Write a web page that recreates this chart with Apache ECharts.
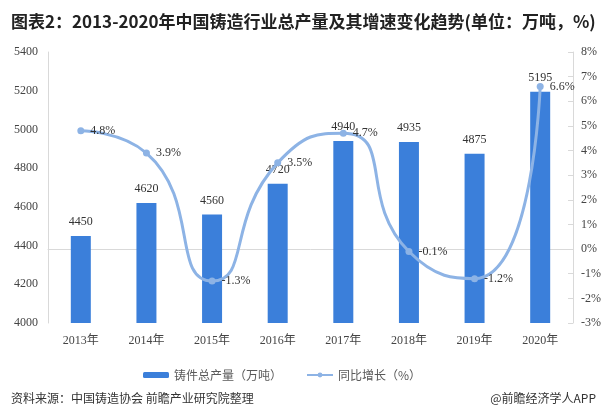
<!DOCTYPE html>
<html><head><meta charset="utf-8">
<script src="https://cdn.jsdelivr.net/npm/echarts@6/dist/echarts.min.js"></script>
<style>html,body{margin:0;padding:0;background:#fff}#c{width:609px;height:417px}</style>
</head><body><div id="c"></div>
<script>
const categories = ['2013年','2014年','2015年','2016年','2017年','2018年','2019年','2020年'];
const output = [4450, 4620, 4560, 4720, 4940, 4935, 4875, 5195];
const growth = [4.8, 3.9, -1.3, 3.5, 4.7, -0.1, -1.2, 6.6];
const serif = "'Liberation Serif','Times New Roman','Noto Sans CJK SC',serif";
const chart = echarts.init(document.getElementById('c'));
chart.setOption({
  animation: false,
  backgroundColor: '#fff',
  title: [
    {text: '图表2：2013-2020年中国铸造行业总产量及其增速变化趋势(单位：万吨，%)', left: 6, top: 8,
     textStyle: {fontSize: 17, fontWeight: 'bold', color: '#222', fontFamily: "'Noto Sans CJK SC',sans-serif"}},
    {text: '资料来源：中国铸造协会 前瞻产业研究院整理', left: 6, top: 387,
     textStyle: {fontSize: 12, fontWeight: 'normal', color: '#333', fontFamily: "'Noto Sans CJK SC',sans-serif"}},
    {text: '@前瞻经济学人APP', right: 8, top: 387,
     textStyle: {fontSize: 12, fontWeight: 'normal', color: '#333', fontFamily: "'Noto Sans CJK SC',sans-serif"}}
  ],
  legend: {
    top: 364, left: 138, itemGap: 24, itemWidth: 26, itemHeight: 6,
    textStyle: {fontSize: 12, color: '#595959', fontFamily: "'Noto Sans CJK SC',sans-serif"},
    data: ['铸件总产量（万吨）', '同比增长（%）']
  },
  grid: {left: 48, right: 36, top: 52, bottom: 94},
  xAxis: {
    type: 'category', data: categories,
    axisLine: {lineStyle: {color: '#d9d9d9'}},
    axisTick: {show: false},
    axisLabel: {color: '#444', fontSize: 12, fontFamily: serif, margin: 12}
  },
  yAxis: [
    {type: 'value', min: 4000, max: 5400, interval: 200,
     axisLine: {show: true, lineStyle: {color: '#d9d9d9'}},
     axisTick: {show: false}, splitLine: {show: false},
     axisLabel: {color: '#444', fontSize: 12, fontFamily: serif, margin: 10, formatter: v => String(v)}},
    {type: 'value', min: -3, max: 8, interval: 1,
     axisLine: {show: true, lineStyle: {color: '#d9d9d9'}},
     axisTick: {show: true, inside: true, length: 5, lineStyle: {color: '#d9d9d9'}},
     splitLine: {show: false},
     axisLabel: {color: '#444', fontSize: 12, fontFamily: serif, margin: 8, formatter: '{value}%'}}
  ],
  series: [
    {name: '铸件总产量（万吨）', type: 'bar', data: output, barWidth: 20, yAxisIndex: 0,
     itemStyle: {color: '#3b7fda'},
     label: {show: true, position: 'top', distance: 8, color: '#333', fontSize: 12, fontFamily: serif}},
    {name: '同比增长（%）', type: 'line', data: growth, yAxisIndex: 1, smooth: 0.6,
     symbol: 'circle', symbolSize: 7,
     lineStyle: {color: '#8db3e5', width: 3},
     itemStyle: {color: '#8db3e5'},
     label: {show: true, position: 'right', distance: 6, color: '#333', fontSize: 12, fontFamily: serif, formatter: '{c}%'}}
  ]
});
</script></body></html>
